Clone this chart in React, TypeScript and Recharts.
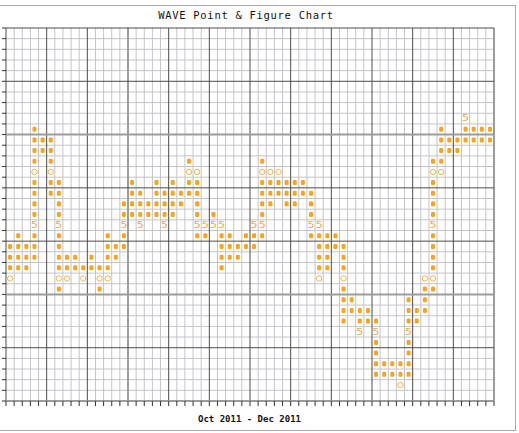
import React from 'react';
import { ScatterChart, Scatter, XAxis, YAxis, ReferenceLine } from 'recharts';

// box grid: 60 columns x 35 rows (row 0 = top)
const COLS = 60;
const ROWS = 35;

// top box row of every column
const columnTops = [
  20, 19, 20, 9, 10, 10, 14, 21, 21, 22,
  21, 22, 19, 20, 16, 14, 15, 16, 14, 15,
  14, 15, 12, 13, 18, 17, 18, 19, 20, 19,
  18, 12, 13, 13, 14, 14, 14, 15, 18, 19,
  19, 20, 25, 26, 26, 27, 31, 31, 31, 25,
  26, 23, 12, 9, 10, 10, 8, 9, 9, 9,
];

// boxes from top down: X = filled, O = hollow, 5 = month marker
const columnBoxes = [
  'XXXO', 'XXXX', 'XXX', 'XXXXOXXXX5XXX', 'XX', 'XXXOXX', 'XXXX5XXXXOX', 'XXO', 'XX', 'XO',
  'XX', 'XOX', 'XXXXO', 'XX', 'XX5XX', 'XXXX', 'XXX5', 'XX', 'XXXX', 'XXX5',
  'XXXX', 'XX', 'XOXX', 'OXXXX5X', '5X', 'X5', '5XXXX', 'XXX', 'XX', 'XX',
  '5XX', 'XOXXXX5X', 'OXXX', 'OXX', 'XXX', 'XXX', 'XX', 'XXX5X', '5XXXXO', 'XXXX',
  'XX', 'XXXOXXXX', 'XX', 'XX5', 'XX', 'X5XXXX', 'XX', 'XX', 'XXO', 'XXX5XXXX',
  'XX', 'OXXX', 'XOXXXX5XXXXOX', 'XXXXO', 'XX', 'XX', '5XX', 'XX', 'XX', 'XX',
];

const title = 'WAVE Point & Figure Chart';
const periodLabel = 'Oct 2011 - Dec 2011';

const boxesOf = (kind: string) => {
  const out: { x: number; y: number }[] = [];
  columnBoxes.forEach((s, c) => {
    s.split('').forEach((ch, i) => {
      if (ch === kind) out.push({ x: c + 0.5, y: columnTops[c] + i + 0.5 });
    });
  });
  return out;
};

const xBoxes = boxesOf('X');
const oBoxes = boxesOf('O');
const monthBoxes = boxesOf('5');

const colLines = Array.from({ length: COLS + 1 }, (_, i) => i);
const rowLines = Array.from({ length: ROWS + 1 }, (_, i) => i);

const MINOR = '#c2c4ca';
const MAJOR = '#4c4c4c';
const HEAVY = '#9c9c9c';

function lineStyle(i: number, heavy: number[]) {
  if (heavy.includes(i)) return { stroke: HEAVY, strokeWidth: 2 };
  if (i % 5 === 0) return { stroke: MAJOR, strokeWidth: 1 };
  return { stroke: MINOR, strokeWidth: 1 };
}

const NoLabel = () => <g />;

const FilledBox = (p: any) => (
  <rect x={p.cx - 2} y={p.cy - 2.5} width={4} height={5} rx={1.2} fill="#f8a51c" />
);
const HollowBox = (p: any) => (
  <circle cx={p.cx} cy={p.cy} r={2.7} fill="none" stroke="#f4b246" strokeWidth={1} />
);
const MonthBox = (p: any) => (
  <text
    x={p.cx}
    y={p.cy + 2.8}
    textAnchor="middle"
    fontSize={8}
    fontFamily="DejaVu Sans Mono"
    fill="#f1a83a"
    transform={`translate(${p.cx} 0) scale(1.45 1) translate(${-p.cx} 0)`}
  >
    5
  </text>
);

export default function App() {
  return (
    <div style={{ position: 'absolute', left: 0, top: 0, width: 519, height: 433, background: '#fff', overflow: 'hidden' }}>
      <div
        style={{
          position: 'absolute',
          left: -10,
          top: 5,
          width: 526,
          height: 426,
          border: '1px solid #a8a8a8',
          boxSizing: 'border-box',
        }}
      />
      <ScatterChart
        width={519}
        height={433}
        margin={{ top: 28, right: 25, bottom: 31, left: 5 }}
        style={{ position: 'absolute', left: 0, top: 0 }}
      >
        <XAxis
          type="number"
          dataKey="x"
          domain={[0, COLS]}
          ticks={colLines}
          interval={0}
          tick={NoLabel}
          tickSize={5}
          tickLine={{ stroke: '#333' }}
          axisLine={false}
          height={1}
        />
        <YAxis
          type="number"
          dataKey="y"
          domain={[0, ROWS]}
          reversed
          ticks={rowLines}
          interval={0}
          tick={NoLabel}
          tickSize={4}
          tickLine={{ stroke: '#333' }}
          axisLine={false}
          width={1}
        />
        {colLines.filter((i) => i % 5 !== 0).map((i) => (
          <ReferenceLine key={`vm${i}`} x={i} {...lineStyle(i, [])} />
        ))}
        {rowLines.filter((i) => i % 5 !== 0).map((i) => (
          <ReferenceLine key={`hm${i}`} y={i} {...lineStyle(i, [])} />
        ))}
        {colLines.filter((i) => i % 5 === 0).map((i) => (
          <ReferenceLine key={`vM${i}`} x={i} {...lineStyle(i, [15, 60])} />
        ))}
        {rowLines.filter((i) => i % 5 === 0).map((i) => (
          <ReferenceLine key={`hM${i}`} y={i} {...lineStyle(i, [10, 25, 35])} />
        ))}
        <Scatter data={xBoxes} shape={FilledBox} isAnimationActive={false} />
        <Scatter data={oBoxes} shape={HollowBox} isAnimationActive={false} />
        <Scatter data={monthBoxes} shape={MonthBox} isAnimationActive={false} />
      </ScatterChart>
      <svg width={519} height={433} style={{ position: 'absolute', left: 0, top: 0, pointerEvents: 'none' }}>
        <text
          x={246}
          y={18.5}
          textAnchor="middle"
          fontFamily="DejaVu Sans Mono"
          fontSize={10.5}
          letterSpacing={0.7}
          fill="#111"
        >
          {title}
        </text>
        <text
          x={249.5}
          y={421.5}
          textAnchor="middle"
          fontFamily="DejaVu Sans Mono"
          fontSize={9}
          fontWeight="bold"
          fill="#111"
        >
          {periodLabel}
        </text>
      </svg>
    </div>
  );
}
